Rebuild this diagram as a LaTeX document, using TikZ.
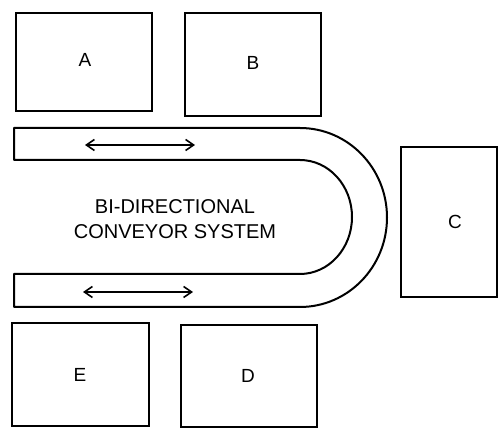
\documentclass[tikz,border=0pt]{standalone}
\usepackage{fontspec}
\setmainfont{Liberation Sans}
\usetikzlibrary{arrows.meta}
\begin{document}
\begin{tikzpicture}[x=1pt,y=1pt,
  station/.style={draw,line width=2pt,inner sep=0pt},
  lbl/.style={font=\fontsize{19}{22}\selectfont},
  belt/.style={draw,line width=2pt},
  flow/.style={line width=1.6pt,{Straight Barb[length=8pt,width=11pt]}-{Straight Barb[length=8pt,width=11pt]}}]
\useasboundingbox (0,0) rectangle (498,428);
% stations
\draw[station] (16,317) rectangle (152,415);
\node[lbl] (A) at (85,368) {A};
\draw[station] (185,312) rectangle (321,415);
\node[lbl] (B) at (253,365) {B};
\draw[station] (401,131) rectangle (497,281);
\node[lbl] (C) at (455,206) {C};
\draw[station] (12,2) rectangle (149,105);
\node[lbl] (E) at (80,53) {E};
\draw[station] (181,1) rectangle (317,103);
\node[lbl] (D) at (248,52) {D};
% conveyor
\draw[belt,line join=round] (14,300) -- (300,300)
  arc[start angle=90,end angle=-90,x radius=87,y radius=89.5]
  -- (14,121) -- (14,154) -- (300,154)
  arc[start angle=-90,end angle=90,x radius=52,y radius=57]
  -- (14,268) -- cycle;
% arrows
\coordinate (t1) at (85,283); \coordinate (t2) at (195,283);
\coordinate (b1) at (83,136); \coordinate (b2) at (193,136);
\draw[flow] (t1) -- (t2);
\draw[flow] (b1) -- (b2);
% label
\node[font=\fontsize{20}{25}\selectfont,align=center] (lab) at (175,208.5) {BI-DIRECTIONAL\\CONVEYOR SYSTEM};
\end{tikzpicture}
\end{document}
